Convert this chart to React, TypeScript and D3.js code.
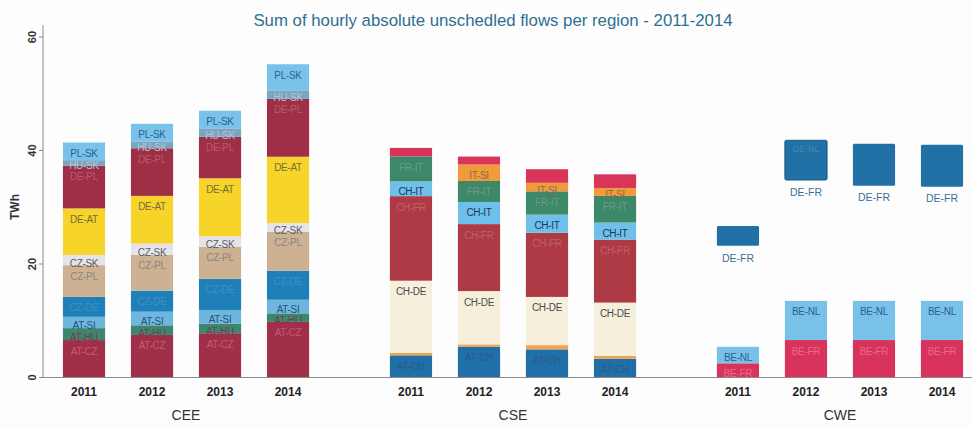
import React from 'react';
import * as d3 from 'd3';

const years = ['2011', '2012', '2013', '2014'];
const groups = ['CEE', 'CSE', 'CWE'];
const yTicks = [0, 20, 40, 60];
const title = 'Sum of hourly absolute unschedled flows per region - 2011-2014';

// CEE series (TWh)
const ceeATCZ = [6.6, 7.5, 7.8, 9.8];
const ceeATHU = [2.1, 1.7, 1.7, 1.5];
const ceeATSI = [2.0, 2.4, 2.4, 2.4];
const ceeCZDE = [3.5, 3.7, 5.5, 5.1];
const ceeCZPL = [5.6, 6.3, 5.6, 6.9];
const ceeCZSK = [1.8, 2.0, 1.9, 1.5];
const ceeDEAT = [8.2, 8.4, 10.2, 11.7];
const ceeDEPL = [7.5, 8.4, 7.3, 10.2];
const ceeHUSK = [1.0, 1.2, 1.5, 1.5];
const ceePLSK = [3.1, 3.1, 3.1, 4.6];

// CSE series (TWh)
const cseATCH = [3.9, 5.4, 4.95, 3.3];
const cseATIT = [0.46, 0.43, 0.75, 0.5];
const cseCHDE = [12.7, 9.4, 8.5, 9.4];
const cseCHFR = [14.9, 11.8, 11.3, 11.1];
const cseCHIT = [2.6, 3.9, 3.2, 3.0];
const cseFRIT = [4.4, 3.7, 4.1, 4.7];
const cseITSI = [0, 2.9, 1.5, 1.4];
const cseGRIT = [1.5, 1.4, 2.4, 2.4];

// CWE series (TWh)
const cweBEFR = [2.5, 6.6, 6.6, 6.6];
const cweBENL = [2.9, 6.9, 6.9, 6.9];
const cweGap = [17.8, 21.3, 20.3, 20.1];
const cweDEFR = [3.5, 7.0, 7.4, 7.4];

type Series = { name: string; values: number[]; fill: string; text: string; label: boolean; hidden?: boolean };

const ceeSeries: Series[] = [
  { name: 'AT-CZ', values: ceeATCZ, fill: '#a0304a', text: '#c75a72', label: true },
  { name: 'AT-HU', values: ceeATHU, fill: '#3c8670', text: '#7a3c4c', label: true },
  { name: 'AT-SI', values: ceeATSI, fill: '#6db7df', text: '#2a4f7a', label: true },
  { name: 'CZ-DE', values: ceeCZDE, fill: '#1f7fb8', text: '#3f90c0', label: true },
  { name: 'CZ-PL', values: ceeCZPL, fill: '#ccb292', text: '#8a8680', label: true },
  { name: 'CZ-SK', values: ceeCZSK, fill: '#e7e4e8', text: '#5a5a6a', label: true },
  { name: 'DE-AT', values: ceeDEAT, fill: '#f6d42a', text: '#7a6c3a', label: true },
  { name: 'DE-PL', values: ceeDEPL, fill: '#9e2f47', text: '#b85a6e', label: true },
  { name: 'HU-SK', values: ceeHUSK, fill: '#7aa6c2', text: '#b0c4d2', label: true },
  { name: 'PL-SK', values: ceePLSK, fill: '#79c3ea', text: '#2d5f94', label: true },
];

const cseSeries: Series[] = [
  { name: 'AT-CH', values: cseATCH, fill: '#1f6fa8', text: '#2f5a88', label: true },
  { name: 'AT-IT', values: cseATIT, fill: '#f0a24e', text: '#333', label: false },
  { name: 'CH-DE', values: cseCHDE, fill: '#f5efdc', text: '#4a4a4a', label: true },
  { name: 'CH-FR', values: cseCHFR, fill: '#ad3a45', text: '#c26068', label: true },
  { name: 'CH-IT', values: cseCHIT, fill: '#6ec0ea', text: '#1d3558', label: true },
  { name: 'FR-IT', values: cseFRIT, fill: '#3d8868', text: '#6a9a86', label: true },
  { name: 'IT-SI', values: cseITSI, fill: '#f29a3a', text: '#8a6a4a', label: true },
  { name: 'GR-IT', values: cseGRIT, fill: '#d9345a', text: '#b85060', label: false },
];

const cweSeries: Series[] = [
  { name: 'BE-FR', values: cweBEFR, fill: '#d8335c', text: '#e66a86', label: true },
  { name: 'BE-NL', values: cweBENL, fill: '#78c2ea', text: '#2d5f94', label: true },
  { name: 'gap', values: cweGap, fill: 'none', text: 'none', label: false, hidden: true },
  { name: 'DE-FR', values: cweDEFR, fill: '#2170a6', text: '#3a6f9a', label: false },
];

const seriesByGroup: Record<string, Series[]> = { CEE: ceeSeries, CSE: cseSeries, CWE: cweSeries };

const W = 972;
const H = 428;

export default function App() {
  React.useEffect(() => {
    document.body.style.margin = '0';
  }, []);

  const y = d3.scaleLinear().domain([0, 60]).range([377.5, 37]);
  const gx = d3.scaleBand().domain(groups).range([50, 976]).paddingInner(0.168);
  const yx = d3.scaleBand().domain(years).range([0, gx.bandwidth()]).paddingInner(0.38).paddingOuter(0.19);
  const font = 'Liberation Sans, Arial, sans-serif';

  const marks: React.ReactNode[] = [];
  const labels: React.ReactNode[] = [];

  groups.forEach((g) => {
    const series = seriesByGroup[g];
    const rows = years.map((yr, i) => {
      const r: Record<string, number | string> = { year: yr };
      series.forEach((s) => (r[s.name] = s.values[i]));
      return r;
    });
    const stack = d3.stack<any>().keys(series.map((s) => s.name))(rows);
    stack.forEach((layer, li) => {
      const s = series[li];
      if (s.hidden) return;
      layer.forEach((d, i) => {
        const x0 = (gx(g) as number) + (yx(years[i]) as number);
        const bw = yx.bandwidth();
        const top = y(d[1]);
        const bot = y(d[0]);
        const h = bot - top;
        if (h <= 0) return;
        const isBox = g === 'CWE' && s.name === 'DE-FR';
        marks.push(
          <rect key={`${g}-${s.name}-${i}`} x={x0} y={top} width={bw} height={h} fill={s.fill}
            rx={isBox ? 1.5 : 0} stroke={isBox && i === 1 ? '#1a5a88' : 'none'} strokeWidth={isBox ? 1 : 0} />
        );
        if (s.label) {
          const cy = top + Math.min(11, h / 2 + 3);
          labels.push(
            <text key={`l-${g}-${s.name}-${i}`} x={x0 + bw / 2} y={cy} dy="0.35em" textAnchor="middle"
              fontFamily={font} fontSize={10} fill={s.text} letterSpacing={-0.3}>{s.name}</text>
          );
        }
        if (isBox) {
          labels.push(
            <text key={`b-${g}-${i}`} x={x0 + bw / 2} y={bot + 12} dy="0.35em" textAnchor="middle"
              fontFamily={font} fontSize={10.5} fill="#3a6f9a">DE-FR</text>
          );
          if (i === 1) {
            labels.push(
              <text key={`bn-${g}-${i}`} x={x0 + bw / 2} y={top + 9} dy="0.35em" textAnchor="middle"
                fontFamily={font} fontSize={9} fill="#4a86b2">DE-NL</text>
            );
          }
        }
      });
    });
  });

  return (
    <svg width={W} height={H} style={{ display: 'block', background: '#fdfdfd' }}>
      <text x={493} y={26} textAnchor="middle" fontFamily={font} fontSize={16.8} fill="#2d6f90">{title}</text>
      {/* y axis */}
      <line x1={43} x2={43} y1={25} y2={y(0)} stroke="#8a8a8a" strokeWidth={1} />
      {yTicks.map((t) => (
        <g key={t}>
          <line x1={39} x2={43} y1={y(t)} y2={y(t)} stroke="#8a8a8a" />
          <text transform={`translate(32,${y(t)}) rotate(-90)`} textAnchor="middle" dy="0.35em"
            fontFamily={font} fontSize={11} fontWeight="bold" fill="#333">{t}</text>
        </g>
      ))}
      <text transform={`translate(15,207) rotate(-90)`} textAnchor="middle" dy="0.35em"
        fontFamily={font} fontSize={12} fontWeight="bold" fill="#333">TWh</text>
      {marks}
      {labels}
      <line x1={43} x2={W} y1={y(0)} y2={y(0)} stroke="#8a8a8a" strokeWidth={1} />
      {groups.map((g) => (
        <g key={`ax-${g}`}>
          {years.map((yr) => (
            <text key={yr} x={(gx(g) as number) + (yx(yr) as number) + yx.bandwidth() / 2} y={392} dy="0.35em"
              textAnchor="middle" fontFamily={font} fontSize={12} fontWeight="bold" fill="#222">{yr}</text>
          ))}
          <text x={(gx(g) as number) + gx.bandwidth() / 2} y={415} dy="0.35em" textAnchor="middle"
            fontFamily={font} fontSize={14} fill="#333">{g}</text>
        </g>
      ))}
    </svg>
  );
}
